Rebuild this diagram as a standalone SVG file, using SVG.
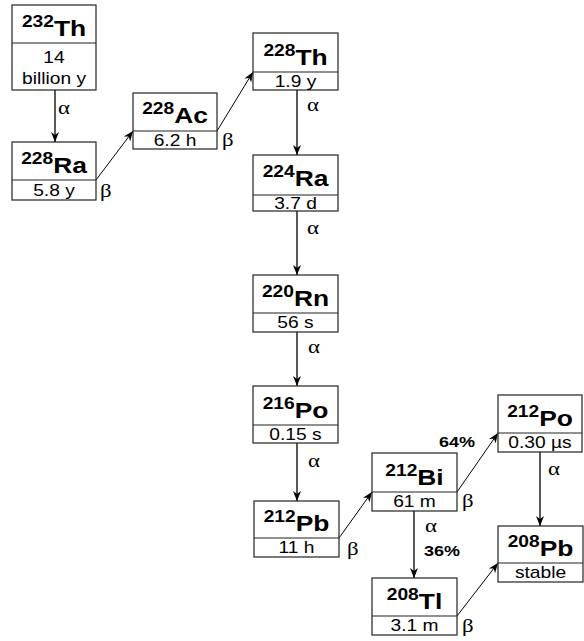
<svg xmlns="http://www.w3.org/2000/svg" width="584" height="641" viewBox="0 0 584 641">
<style>
.box{fill:#fff;stroke:#222;stroke-width:1.2}
.div{stroke:#222;stroke-width:1.2}
.h{font-family:"Liberation Sans",Arial,sans-serif;font-weight:bold;font-size:22px;fill:#000;text-anchor:middle}
.sup{font-size:16px}
.t{font-family:"Liberation Sans",Arial,sans-serif;font-size:16px;fill:#000;text-anchor:middle}
.g{font-family:"Liberation Serif","Times New Roman",serif;font-size:19px;fill:#000}
.p{font-family:"Liberation Sans",Arial,sans-serif;font-weight:bold;font-size:15px;fill:#000}
.c{stroke:#000;stroke-width:1.3;fill:none;marker-end:url(#ah)}
.d{stroke:#000;stroke-width:1;fill:none;marker-end:url(#ah)}
</style>
<defs>
<marker id="ah" markerUnits="userSpaceOnUse" markerWidth="11" markerHeight="10" refX="10" refY="5" orient="auto">
<path d="M0,1 L10,5 L0,9 L3,5 z" fill="#000"/>
</marker>
</defs>
<g id="connectors">
<line class="c" x1="55" y1="90" x2="55" y2="142"/>
<line class="d" x1="96" y1="180" x2="133" y2="131"/>
<line class="d" x1="217" y1="131" x2="253" y2="72"/>
<line class="c" x1="297" y1="90" x2="297" y2="155"/>
<line class="c" x1="297" y1="211" x2="297" y2="275"/>
<line class="c" x1="297" y1="332" x2="297" y2="386"/>
<line class="c" x1="297" y1="443" x2="297" y2="501"/>
<line class="d" x1="339" y1="538" x2="372" y2="492"/>
<line class="d" x1="457" y1="492" x2="498" y2="433"/>
<line class="c" x1="414" y1="511" x2="414" y2="578"/>
<line class="c" x1="540" y1="452" x2="540" y2="526"/>
<line class="d" x1="457" y1="616" x2="498" y2="563"/>
<text class="g" transform="translate(58,114) scale(1.2,1)">α</text>
<text class="g" transform="translate(100,197) scale(1.2,1)">β</text>
<text class="g" transform="translate(222,146) scale(1.2,1)">β</text>
<text class="g" transform="translate(307,111) scale(1.2,1)">α</text>
<text class="g" transform="translate(307,234) scale(1.2,1)">α</text>
<text class="g" transform="translate(308,353) scale(1.2,1)">α</text>
<text class="g" transform="translate(308,467) scale(1.2,1)">α</text>
<text class="g" transform="translate(347,555) scale(1.2,1)">β</text>
<text class="g" transform="translate(462,507) scale(1.2,1)">β</text>
<text class="g" transform="translate(462,632) scale(1.2,1)">β</text>
<text class="g" transform="translate(425,532) scale(1.2,1)">α</text>
<text class="g" transform="translate(548,475) scale(1.2,1)">α</text>
<text class="p" transform="translate(424,556) scale(1.2,1)">36%</text>
<text class="p" transform="translate(439,447) scale(1.2,1)">64%</text>
</g>
<g id="th232">
<rect class="box" x="12" y="5" width="84" height="85"/>
<line class="div" x1="12" y1="43" x2="96" y2="43"/>
<text class="h" transform="translate(54,36) scale(1.2,1)"><tspan class="sup" dy="-9">232</tspan><tspan dy="9">Th</tspan></text>
<text class="t" transform="translate(54,62.5) scale(1.2,1)">14</text>
<text class="t" transform="translate(54,84) scale(1.2,1)">billion y</text>
</g>
<g id="ra228">
<rect class="box" x="12" y="142" width="84" height="58"/>
<line class="div" x1="12" y1="180" x2="96" y2="180"/>
<text class="h" transform="translate(54,172.5) scale(1.2,1)"><tspan class="sup" dy="-9">228</tspan><tspan dy="9">Ra</tspan></text>
<text class="t" transform="translate(54,195.5) scale(1.2,1)">5.8 y</text>
</g>
<g id="ac228">
<rect class="box" x="133" y="93" width="84" height="56"/>
<line class="div" x1="133" y1="131" x2="217" y2="131"/>
<text class="h" transform="translate(175,123) scale(1.2,1)"><tspan class="sup" dy="-9">228</tspan><tspan dy="9">Ac</tspan></text>
<text class="t" transform="translate(175,145.5) scale(1.2,1)">6.2 h</text>
</g>
<g id="th228">
<rect class="box" x="253" y="33" width="85" height="57"/>
<line class="div" x1="253" y1="72" x2="338" y2="72"/>
<text class="h" transform="translate(295.5,64.5) scale(1.2,1)"><tspan class="sup" dy="-9">228</tspan><tspan dy="9">Th</tspan></text>
<text class="t" transform="translate(295.5,86.5) scale(1.2,1)">1.9 y</text>
</g>
<g id="ra224">
<rect class="box" x="253" y="155" width="85" height="56"/>
<line class="div" x1="253" y1="195" x2="338" y2="195"/>
<text class="h" transform="translate(295.5,186) scale(1.2,1)"><tspan class="sup" dy="-9">224</tspan><tspan dy="9">Ra</tspan></text>
<text class="t" transform="translate(295.5,208.5) scale(1.2,1)">3.7 d</text>
</g>
<g id="rn220">
<rect class="box" x="253" y="275" width="85" height="57"/>
<line class="div" x1="253" y1="313" x2="338" y2="313"/>
<text class="h" transform="translate(295.5,305.5) scale(1.2,1)"><tspan class="sup" dy="-9">220</tspan><tspan dy="9">Rn</tspan></text>
<text class="t" transform="translate(295.5,328) scale(1.2,1)">56 s</text>
</g>
<g id="po216">
<rect class="box" x="253" y="386" width="85" height="57"/>
<line class="div" x1="253" y1="425" x2="338" y2="425"/>
<text class="h" transform="translate(295.5,417.5) scale(1.2,1)"><tspan class="sup" dy="-9">216</tspan><tspan dy="9">Po</tspan></text>
<text class="t" transform="translate(295.5,439.5) scale(1.2,1)">0.15 s</text>
</g>
<g id="pb212">
<rect class="box" x="254" y="501" width="85" height="56"/>
<line class="div" x1="254" y1="538" x2="339" y2="538"/>
<text class="h" transform="translate(296.5,530.5) scale(1.2,1)"><tspan class="sup" dy="-9">212</tspan><tspan dy="9">Pb</tspan></text>
<text class="t" transform="translate(296.5,553) scale(1.2,1)">11 h</text>
</g>
<g id="bi212">
<rect class="box" x="372" y="453" width="85" height="58"/>
<line class="div" x1="372" y1="492" x2="457" y2="492"/>
<text class="h" transform="translate(414.5,484.5) scale(1.2,1)"><tspan class="sup" dy="-9">212</tspan><tspan dy="9">Bi</tspan></text>
<text class="t" transform="translate(414.5,507) scale(1.2,1)">61 m</text>
</g>
<g id="tl208">
<rect class="box" x="372" y="578" width="85" height="57"/>
<line class="div" x1="372" y1="616" x2="457" y2="616"/>
<text class="h" transform="translate(414.5,608.5) scale(1.2,1)"><tspan class="sup" dy="-9">208</tspan><tspan dy="9">Tl</tspan></text>
<text class="t" transform="translate(414.5,631) scale(1.2,1)">3.1 m</text>
</g>
<g id="po212">
<rect class="box" x="498" y="395" width="84" height="57"/>
<line class="div" x1="498" y1="433" x2="582" y2="433"/>
<text class="h" transform="translate(540,425.5) scale(1.2,1)"><tspan class="sup" dy="-9">212</tspan><tspan dy="9">Po</tspan></text>
<text class="t" transform="translate(540,448) scale(1.2,1)">0.30 µs</text>
</g>
<g id="pb208">
<rect class="box" x="498" y="526" width="85" height="56"/>
<line class="div" x1="498" y1="563" x2="583" y2="563"/>
<text class="h" transform="translate(540.5,555.5) scale(1.2,1)"><tspan class="sup" dy="-9">208</tspan><tspan dy="9">Pb</tspan></text>
<text class="t" transform="translate(540.5,578) scale(1.2,1)">stable</text>
</g>
</svg>
